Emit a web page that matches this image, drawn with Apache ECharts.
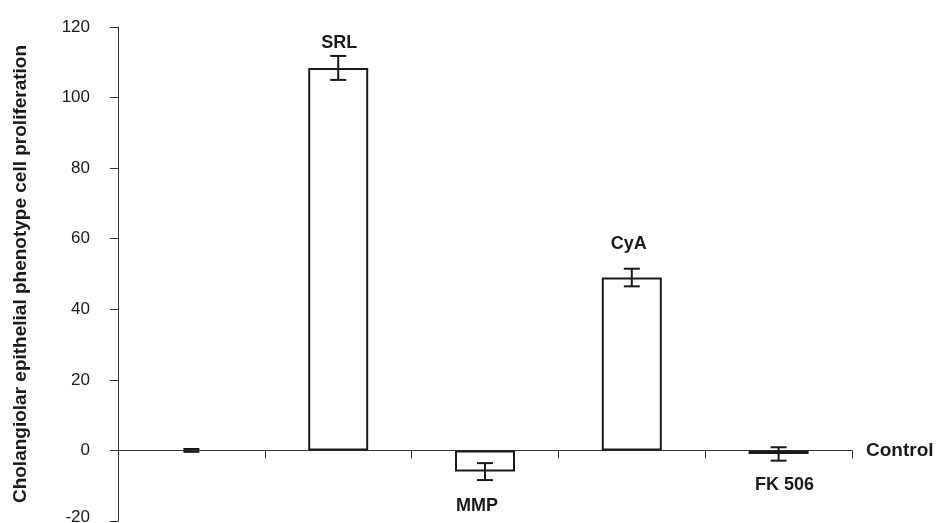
<!DOCTYPE html>
<html>
<head>
<meta charset="utf-8">
<script src="https://cdn.jsdelivr.net/npm/echarts@6/dist/echarts.min.js"></script>
<style>
html,body{margin:0;padding:0;background:#fff;}
#chart{width:936px;height:523px;}
</style>
</head>
<body>
<div id="chart"></div>
<script>
// ---- data ----
var categories = ['Control', 'SRL', 'MMP', 'CyA', 'FK 506'];
var groupLabels = ['', 'SRL', 'MMP', 'CyA', 'FK 506'];
var means = [0, 108.4, -6.0, 49.0, -1.0];
var errors = [0.4, 3.4, 2.4, 2.5, 1.9];
var yTicks = [-20, 0, 20, 40, 60, 80, 100, 120];
var yTitle = 'Cholangiolar epithelial phenotype cell proliferation';
var baselineName = 'Control';

// ---- label placement (style, pixels) ----
var labelGap = [0, 13, 26, 25, 24];
var labelDx = [0, 1, -8, -3, 6];

var chart = echarts.init(document.getElementById('chart'));
var font = '"Liberation Sans", Arial, Helvetica, sans-serif';
var ink = '#1a1a1a';

var errData = categories.map(function (c, i) { return [i, means[i], errors[i]]; });
var lblData = categories.map(function (c, i) { return [i, means[i], errors[i]]; });
var barData = means.map(function (v) {
  return v === 0 ? { value: v, itemStyle: { borderWidth: 0 } } : v;
});

chart.setOption({
  animation: false,
  backgroundColor: '#fff',
  grid: { left: 118, right: 84, top: 27, bottom: 2, containLabel: false, outerBoundsMode: 'none' },
  xAxis: {
    type: 'category',
    data: categories,
    boundaryGap: true,
    axisLine: { onZero: true, lineStyle: { color: '#333', width: 1 } },
    axisTick: { show: true, length: 8, lineStyle: { color: '#333' } },
    axisLabel: { show: false },
    splitLine: { show: false },
    name: baselineName,
    nameLocation: 'end',
    nameGap: 14,
    nameTextStyle: { fontFamily: font, fontWeight: 'bold', fontSize: 19, color: ink, verticalAlign: 'middle' }
  },
  yAxis: {
    type: 'value',
    min: yTicks[0],
    max: yTicks[yTicks.length - 1],
    interval: yTicks[1] - yTicks[0],
    axisLine: { show: true, lineStyle: { color: '#333', width: 1 } },
    axisTick: { show: true, length: 8, lineStyle: { color: '#333' } },
    axisLabel: {
      fontFamily: font, fontSize: 17, color: ink, margin: 28,
      formatter: function (v) { return v === yTicks[0] ? '{lo|' + v + '}' : String(v); },
      rich: { lo: { fontFamily: font, fontSize: 17, color: ink, padding: [0, 0, 8, 0] } }
    },
    splitLine: { show: false },
    name: yTitle,
    nameLocation: 'middle',
    nameRotate: 90,
    nameGap: 88,
    nameTextStyle: { fontFamily: font, fontWeight: 'bold', fontSize: 19, color: ink }
  },
  series: [
    {
      type: 'bar',
      data: barData,
      barWidth: 60,
      itemStyle: { color: '#ffffff', borderColor: ink, borderWidth: 2 },
      z: 2
    },
    {
      type: 'custom',
      data: errData,
      z: 3,
      renderItem: function (params, api) {
        var i = api.value(0), m = api.value(1), e = api.value(2);
        var top = api.coord([i, m + e]);
        var bot = api.coord([i, m - e]);
        var half = 8;
        var st = { stroke: ink, lineWidth: 2 };
        return {
          type: 'group',
          children: [
            { type: 'line', shape: { x1: top[0], y1: top[1], x2: bot[0], y2: bot[1] }, style: st },
            { type: 'line', shape: { x1: top[0] - half, y1: top[1], x2: top[0] + half, y2: top[1] }, style: st },
            { type: 'line', shape: { x1: bot[0] - half, y1: bot[1], x2: bot[0] + half, y2: bot[1] }, style: st }
          ]
        };
      }
    },
    {
      type: 'custom',
      data: lblData,
      z: 4,
      renderItem: function (params, api) {
        var i = api.value(0), m = api.value(1), e = api.value(2);
        var txt = groupLabels[i];
        if (!txt) return null;
        var p;
        if (m >= 0) {
          p = api.coord([i, m + e]);
          p = [p[0] + labelDx[i], p[1] - labelGap[i]];
        } else {
          p = api.coord([i, m - e]);
          p = [p[0] + labelDx[i], p[1] + labelGap[i]];
        }
        return {
          type: 'text',
          x: p[0], y: p[1],
          style: { text: txt, fontFamily: font, fontWeight: 'bold', fontSize: 18, fill: ink, align: 'center', verticalAlign: 'middle' }
        };
      }
    }
  ]
});
</script>
</body>
</html>
